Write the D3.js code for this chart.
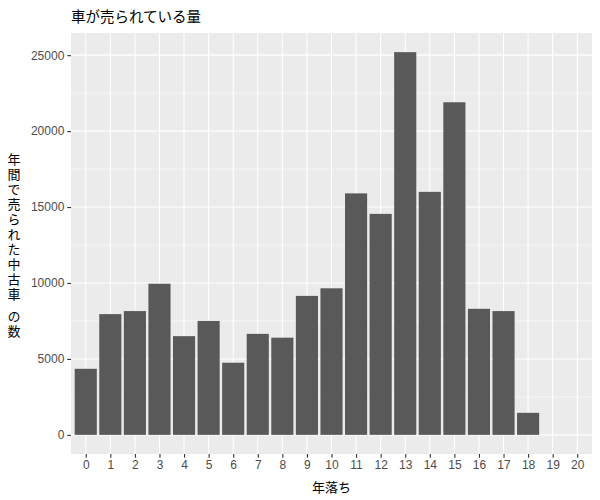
<!DOCTYPE html>
<html><head><meta charset="utf-8">
<script src="https://cdn.jsdelivr.net/npm/d3@7"></script>
<style>body{margin:0;background:#fff}svg{display:block}</style>
</head><body>
<svg id="c" width="600" height="500"></svg>
<script>
const categories = ["0","1","2","3","4","5","6","7","8","9","10","11","12","13","14","15","16","17","18","19","20"];
const values = [4350,7950,8150,9950,6500,7500,4750,6650,6400,9150,9650,15900,14550,25200,16000,21900,8300,8150,1450,0,0];
const yTicks = [0,5000,10000,15000,20000,25000];
const yMinor = [2500,7500,12500,17500,22500];
const title = "車が売られている量";
const xTitle = "年落ち";
const yTitleParts = ["年間で売られた中古車", " ", "の数"];

const svg = d3.select("#c");
const L = 71, R = 592, T = 33, B = 454;
const maxV = d3.max(values);
const pad = maxV * 0.05;
const y = d3.scaleLinear().domain([-pad, maxV + pad]).range([B, T]);
const n = categories.length;
const xs = d3.scaleLinear().domain([-0.6, n - 1 + 0.6]).range([L, R]);
const x = c => xs(categories.indexOf(c));

svg.append("rect").attr("x", L).attr("y", T).attr("width", R - L).attr("height", B - T).attr("fill", "#EBEBEB");
const g = svg.append("g");
g.selectAll("line.minor").data(yMinor).join("line")
  .attr("x1", L).attr("x2", R).attr("y1", d => y(d)).attr("y2", d => y(d))
  .attr("stroke", "#fff").attr("stroke-width", 0.55);
g.selectAll("line.majy").data(yTicks).join("line")
  .attr("x1", L).attr("x2", R).attr("y1", d => y(d)).attr("y2", d => y(d))
  .attr("stroke", "#fff").attr("stroke-width", 1.1);
g.selectAll("line.majx").data(categories).join("line")
  .attr("y1", T).attr("y2", B).attr("x1", d => x(d)).attr("x2", d => x(d))
  .attr("stroke", "#fff").attr("stroke-width", 1.1);

const bw = (xs(1) - xs(0)) * 0.9;
svg.append("g").selectAll("rect").data(values.map((v, i) => ({c: categories[i], v})).filter(d => d.v > 0)).join("rect")
  .attr("x", d => x(d.c) - bw / 2).attr("width", bw)
  .attr("y", d => y(d.v)).attr("height", d => y(0) - y(d.v))
  .attr("fill", "#595959");

// axes
const xAxis = d3.axisBottom(xs).tickValues(d3.range(n)).tickFormat(i => categories[i]).tickSize(3.7).tickPadding(3);
const xa = svg.append("g").attr("transform", `translate(0,${B})`).call(xAxis);
const yAxis = d3.axisLeft(y).tickValues(yTicks).tickFormat(d3.format("d")).tickSize(3.7).tickPadding(3);
const ya = svg.append("g").attr("transform", `translate(${L},0)`).call(yAxis);
[xa, ya].forEach(a => {
  a.select(".domain").remove();
  a.selectAll(".tick line").attr("stroke", "#333333").attr("stroke-width", 1.1);
  a.selectAll(".tick text").attr("fill", "#4D4D4D").style("font-family", "Liberation Sans, Arial, sans-serif").style("font-size", "12px");
});

svg.append("text").attr("x", L).attr("y", 22).text(title)
  .style("font-family", "Noto Sans CJK JP").style("font-size", "14.5px").attr("fill", "#000");
svg.append("text").attr("x", (L + R) / 2).attr("y", 492).attr("text-anchor", "middle").text(xTitle)
  .style("font-family", "Noto Sans CJK JP").style("font-size", "13px").attr("fill", "#000");

const yt = svg.append("text")
  .attr("x", 14).attr("y", 246)
  .attr("text-anchor", "middle")
  .style("writing-mode", "vertical-rl")
  .style("text-orientation", "upright")
  .style("letter-spacing", "2px")
  .style("font-family", "Noto Sans CJK JP").style("font-size", "13px").attr("fill", "#000");
yTitleParts.forEach(p => {
  const t = yt.append("tspan").text(p);
  if (p === " ") t.style("font-size", "5px");
});
</script>
</body></html>
